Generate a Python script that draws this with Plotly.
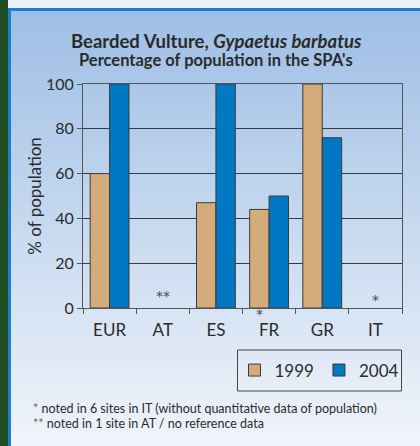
import plotly.graph_objects as go

# ---- data ----
categories = ["EUR", "AT", "ES", "FR", "GR", "IT"]
values_1999 = [60, None, 47, 44, 100, None]
values_2004 = [100, None, 100, 50, 76, None]
series_names = ["1999", "2004"]
y_ticks = [0, 20, 40, 60, 80, 100]

title_line1 = "<b>Bearded Vulture, <i>Gypaetus barbatus</i></b>"
title_line2 = "<b>Percentage of population in the SPA's</b>"
footnote1 = "<span style='color:#666666'>*</span> noted in 6 sites in IT (without quantitative data of population)"
footnote2 = "<span style='color:#666666'>**</span> noted in 1 site in AT / no reference data"

W, H = 420, 446
ML, MR, MT, MB = 83, 18, 84, 138

FONT = "Lato"
TXT = "#2b2b2b"
C1999 = "#d4ac7b"
C2004 = "#0079c2"
OUTLINE = "#3d3a35"

fig = go.Figure()
fig.add_trace(go.Bar(x=categories, y=values_1999, name=series_names[0],
                     marker=dict(color=C1999, line=dict(color=OUTLINE, width=1))))
fig.add_trace(go.Bar(x=categories, y=values_2004, name=series_names[1],
                     marker=dict(color=C2004, line=dict(color=OUTLINE, width=1))))


def px_x(px):
    return (px - ML) / (W - ML - MR)


def px_y(py):
    return (H - MB - py) / (H - MT - MB)


shapes = []
# background gradient (panel)
top = (158, 191, 229)
bot = (240, 244, 250)
n = 60
ystart, yend = 10, H
for i in range(n):
    t = i / (n - 1)
    c = tuple(int(round(top[k] + (bot[k] - top[k]) * t)) for k in range(3))
    pa = ystart + (yend - ystart) * i / n
    pb = ystart + (yend - ystart) * (i + 1) / n + 0.5
    shapes.append(dict(type="rect", xref="paper", yref="paper", layer="below",
                       x0=px_x(0), x1=px_x(W), y0=px_y(pb), y1=px_y(pa),
                       fillcolor="rgb(%d,%d,%d)" % c, line=dict(width=0)))

# top light strip
shapes.append(dict(type="rect", xref="paper", yref="paper", layer="below",
                   x0=px_x(0), x1=px_x(W), y0=px_y(8), y1=px_y(0),
                   fillcolor="#eaf0f7", line=dict(width=0)))
# left green strip
shapes.append(dict(type="rect", xref="paper", yref="paper", layer="below",
                   x0=px_x(0), x1=px_x(8), y0=px_y(H), y1=px_y(0),
                   fillcolor="#214d24", line=dict(width=0)))
# blue border lines
shapes.append(dict(type="rect", xref="paper", yref="paper", layer="below",
                   x0=px_x(8), x1=px_x(W), y0=px_y(11), y1=px_y(8),
                   fillcolor="#1a7fcc", line=dict(width=0)))
shapes.append(dict(type="rect", xref="paper", yref="paper", layer="below",
                   x0=px_x(8), x1=px_x(11), y0=px_y(H), y1=px_y(8),
                   fillcolor="#1a7fcc", line=dict(width=0)))
# legend box
shapes.append(dict(type="rect", xref="paper", yref="paper",
                   x0=px_x(237.5), x1=px_x(401.5), y0=px_y(391), y1=px_y(350),
                   fillcolor="rgba(0,0,0,0)", line=dict(color="#444444", width=1)))

STAR = dict(family="DejaVu Sans", size=14, color="#4a4a4a")
annotations = [
    dict(text="**", x="AT", y=0, xref="x", yref="y", yanchor="middle", yshift=12,
         showarrow=False, font=STAR),
    dict(text="*", x="IT", y=0, xref="x", yref="y", yanchor="middle", yshift=8,
         showarrow=False, font=STAR),
    dict(text="*", x="FR", y=0, xref="x", yref="y", yanchor="middle", xshift=-10, yshift=-6,
         showarrow=False, font=STAR),
    dict(text=title_line1, x=px_x(216), y=px_y(41), xref="paper", yref="paper",
         yanchor="middle", showarrow=False, font=dict(family=FONT, size=18.5, color=TXT)),
    dict(text=title_line2, x=px_x(216), y=px_y(60), xref="paper", yref="paper",
         yanchor="middle", showarrow=False, font=dict(family=FONT, size=16.5, color=TXT)),
    dict(text=footnote1, x=px_x(31), y=px_y(408.5), xref="paper", yref="paper",
         xanchor="left", yanchor="middle", showarrow=False,
         font=dict(family=FONT, size=12.5, color=TXT)),
    dict(text=footnote2, x=px_x(31), y=px_y(423), xref="paper", yref="paper",
         xanchor="left", yanchor="middle", showarrow=False,
         font=dict(family=FONT, size=12.5, color=TXT)),
]

fig.update_layout(
    width=W, height=H,
    margin=dict(l=ML, r=MR, t=MT, b=MB, pad=0),
    paper_bgcolor="#eef3fa",
    plot_bgcolor="#f3e4c2",
    barmode="group",
    bargap=0.27,
    bargroupgap=0,
    font=dict(family=FONT, color=TXT),
    showlegend=True,
    legend=dict(orientation="h", x=px_x(319.5), xanchor="center",
                y=px_y(370.5), yanchor="middle",
                bgcolor="rgba(0,0,0,0)", borderwidth=0,
                font=dict(family=FONT, size=17, color=TXT),
                traceorder="normal"),
    shapes=shapes,
    annotations=annotations,
    xaxis=dict(showline=True, linecolor="#555555", linewidth=1, mirror=True,
               ticks="outside", ticklen=5, tickcolor="#555555",
               tickson="boundaries", ticklabelstandoff=7,
               tickfont=dict(family=FONT, size=17, color=TXT),
               showgrid=False, fixedrange=True),
    yaxis=dict(range=[0, 100], tickvals=y_ticks, showline=True, linecolor="#555555",
               linewidth=1, mirror=True, ticks="outside", ticklen=5, tickcolor="#555555",
               tickfont=dict(family=FONT, size=16, color=TXT),
               showgrid=True, gridcolor="#3a3a3a", gridwidth=1, zeroline=False,
               title=dict(text="% of population", font=dict(family=FONT, size=17, color=TXT),
                          standoff=0),
               fixedrange=True),
)

fig.write_html("out.html", config={"displayModeBar": False},
               post_script="document.body.style.margin='0';")
